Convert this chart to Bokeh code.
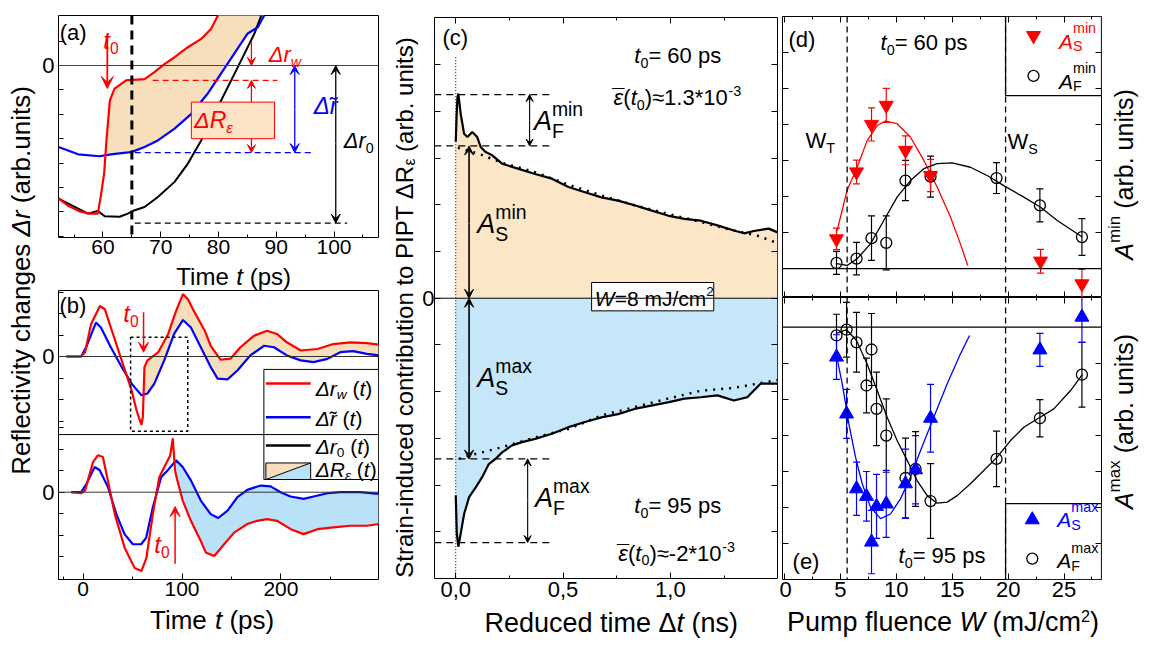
import numpy as np
from bokeh.plotting import figure
from bokeh.models import (Range1d, LinearAxis, FixedTicker, Label, Arrow, VeeHead,
                          Whisker, TeeHead, ColumnDataSource, CustomJSTickFormatter, Span)
from bokeh.layouts import row, column
from bokeh.embed import file_html
from bokeh.resources import INLINE

FONT = "Liberation Sans"
RED = "#FF0000"
BLUE = "#0000FF"
TAN_AB = "#F7DFBB"
SKY_AB = "#B9E2F8"
TAN_C = "#FCE6C8"
SKY_C = "#C6E7FA"

# ---------------- data: panel (a) (time in ps, reflectivity in arb. units) ----------------
a_red_t = [52.3, 54.0, 56.0, 57.7, 59.1, 59.6, 60.2, 60.6, 61.2, 62.0, 64.0, 65.2, 67.2, 68.9, 70.7, 72.4, 74.7, 77.0, 78.7, 79.9, 80.5]
a_red_v = [-5.45, -5.75, -5.98, -6.07, -6.07, -5.39, -4.43, -3.07, -1.43, -0.95, -0.61, -0.59, -0.56, -0.27, 0.07, 0.34, 0.75, 1.09, 1.50, 2.05, 2.60]
a_blue_t = [52.3, 55.7, 59.4, 61.4, 63.2, 64.9, 67.2, 69.5, 72.4, 75.3, 78.1, 80.4, 82.7, 85.0, 86.8, 87.9, 88.4]
a_blue_v = [-3.34, -3.64, -3.72, -3.64, -3.59, -3.55, -3.34, -3.07, -2.59, -1.98, -1.16, -0.34, 0.48, 1.30, 1.57, 2.05, 2.60]
a_black_t = [52.3, 55.7, 57.4, 59.1, 60.3, 62.9, 64.3, 65.5, 67.2, 69.5, 72.4, 74.7, 77.0, 79.3, 81.6, 83.9, 86.2, 87.3, 87.8]
a_black_v = [-5.46, -5.87, -6.07, -5.96, -6.18, -6.20, -6.07, -5.93, -5.80, -5.39, -4.77, -4.02, -3.07, -1.98, -0.89, 0.20, 1.30, 1.98, 2.60]
a_cross = (60.4, -3.68)
a_t0 = 65.0
a_levels = [-0.61, -3.57, -6.46]   # red, blue, black dashed levels

# ---------------- data: panel (b) ----------------
b1_red_t = [-17, -2, 2, 8, 17, 22, 28, 39, 49, 54, 59, 60.4, 62, 65, 76, 86, 94, 101, 106, 112, 123, 129, 139, 149, 159, 173, 186, 196, 206, 220, 237, 253, 270, 287, 299]
b1_red_v = [0, 0, 0.2, 1.5, 2.35, 2.2, 1.35, -0.18, -1.57, -2.5, -3.18, -2.8, -0.5, -0.18, 0.2, 1.05, 2.12, 2.9, 2.66, 2.12, 1.2, 0.5, -0.15, -0.1, 0.43, 0.97, 1.2, 1.05, 0.66, 0.28, 0.35, 0.58, 0.66, 0.62, 0.55]
b1_blue_t = [-17, -2, 3, 13, 18, 28, 39, 49, 59, 65, 72, 82, 92, 101, 109, 119, 129, 136, 146, 156, 169, 183, 193, 206, 220, 233, 247, 260, 273, 287, 299]
b1_blue_v = [0, 0, 0.43, 1.58, 1.35, 0.43, -0.49, -1.26, -1.8, -1.72, -1.26, -0.18, 1.05, 1.7, 1.35, 0.43, -0.49, -1.03, -1.06, -0.65, 0.05, 0.5, 0.43, 0.05, -0.18, -0.26, -0.11, 0.2, 0.25, 0.12, 0.05]
b1_cross = (61.2, -1.78)

b2_red_t = [-12, -2, 2, 10, 15, 20, 25, 32, 42, 52, 59, 64, 70.5, 77, 83, 88, 90.7, 91.6, 93.0, 95, 100.7, 109, 119, 124, 132.6, 142.6, 152.7, 166, 176, 186, 196, 210, 223, 237, 253, 270, 287, 299]
b2_red_v = [0, -0.05, 0.08, 1.4, 1.72, 1.64, 0.55, -1.02, -2.58, -3.52, -3.67, -3.05, -1.02, 0.7, 1.25, 1.7, 2.5, 1.9, 1.0, 0.6, -0.39, -1.33, -2.27, -2.8, -2.97, -2.42, -1.88, -1.48, -1.33, -1.25, -1.33, -1.72, -1.95, -1.72, -1.64, -1.56, -1.56, -1.48]
b2_blue_t = [-12, -2, 3.4, 11.7, 16.8, 25.2, 33.6, 41.9, 50.3, 58.7, 63.8, 70.5, 78.9, 85.6, 94, 100.7, 109, 119, 129, 136.6, 146, 156, 166, 179.5, 189.6, 199.7, 209.7, 223, 233, 247, 260, 280, 299]
b2_blue_v = [0, 0, 0.39, 1.17, 1.02, 0.23, -1.02, -1.95, -2.42, -2.42, -2.11, -0.7, 0.7, 1.02, 1.48, 1.17, 0.55, -0.39, -1.02, -1.2, -0.86, -0.23, 0.11, 0.31, 0.27, 0, -0.2, -0.31, -0.2, -0.05, 0, 0, -0.08]
b2_cross = (92.4, 1.4)
B2 = -6.31   # vertical placement of the lower trace pair inside panel (b)

# ---------------- data: panel (c) (reduced time in ns) ----------------
c_up_t = [0.0, 0.004, 0.008, 0.012, 0.023, 0.039, 0.054, 0.077, 0.1, 0.116, 0.139, 0.17, 0.216, 0.293, 0.37, 0.448, 0.525, 0.602, 0.679, 0.756, 0.833, 0.91, 0.988, 1.065, 1.142, 1.219, 1.296, 1.343, 1.389, 1.458, 1.499]
c_up_v = [3.35, 3.9, 4.31, 4.38, 3.95, 3.52, 3.45, 3.56, 3.45, 3.24, 3.13, 3.06, 2.88, 2.77, 2.66, 2.56, 2.38, 2.27, 2.16, 2.09, 1.99, 1.88, 1.77, 1.70, 1.66, 1.56, 1.45, 1.39, 1.44, 1.49, 1.41]
c_fitup_t = [0.01, 0.108, 0.216, 0.37, 0.525, 0.679, 0.833, 0.988, 1.142, 1.296, 1.405, 1.499]
c_fitup_v = [3.22, 3.09, 2.90, 2.70, 2.43, 2.20, 1.99, 1.81, 1.63, 1.45, 1.34, 1.18]
c_lo_t = [0.0, 0.005, 0.012, 0.023, 0.039, 0.062, 0.093, 0.123, 0.154, 0.185, 0.216, 0.262, 0.309, 0.37, 0.448, 0.525, 0.602, 0.679, 0.756, 0.833, 0.91, 0.988, 1.065, 1.142, 1.219, 1.296, 1.358, 1.42, 1.499]
c_lo_v = [-4.22, -5.04, -5.32, -5.04, -4.62, -4.26, -4.05, -3.83, -3.55, -3.44, -3.30, -3.15, -3.08, -3.01, -2.90, -2.76, -2.65, -2.55, -2.48, -2.37, -2.30, -2.23, -2.15, -2.12, -2.08, -2.19, -2.12, -1.83, -1.83]
c_fitlo_t = [0.015, 0.062, 0.216, 0.37, 0.525, 0.679, 0.833, 0.988, 1.142, 1.296, 1.499]
c_fitlo_v = [-3.44, -3.37, -3.19, -2.98, -2.80, -2.51, -2.33, -2.15, -1.98, -1.92, -1.75]
c_levels = [4.36, 3.26, -3.44, -5.23]
c_xticks = [0.0, 0.5, 1.0]

# ---------------- data: panel (d) ----------------
d_w = [4.65, 6.44, 7.78, 9.10, 10.82, 13.06, 22.90, 26.60]
d_s = [0.83, 2.69, 4.01, 4.54, 3.29, 2.59, 0.21, -0.42]
d_s_err = [0.30, 0.33, 0.46, 0.47, 0.40, 0.45, 0.33, 0.40]
d_fw = [4.65, 6.44, 7.78, 9.10, 10.82, 13.06, 18.96, 22.84, 26.60]
d_f = [0.16, 0.28, 0.85, 0.72, 2.45, 2.56, 2.52, 1.76, 0.88]
d_f_err = [0.32, 0.45, 0.62, 0.75, 0.56, 0.57, 0.43, 0.46, 0.51]
d_sfit_w = [4.70, 5.6, 6.5, 7.39, 8.29, 9.03, 10.07, 11.26, 12.46, 13.65, 14.84, 15.73, 16.39]
d_sfit = [1.05, 2.18, 2.82, 3.56, 3.98, 4.10, 4.03, 3.66, 3.01, 2.27, 1.44, 0.69, 0.09]
d_ffit_w = [4.65, 5.6, 6.5, 7.69, 8.88, 10.07, 11.26, 12.46, 13.65, 14.99, 16.63, 18.12, 19.61, 21.4, 22.9, 24.39, 26.63]
d_ffit = [0.14, 0.09, 0.28, 0.69, 1.34, 1.99, 2.45, 2.78, 2.92, 2.94, 2.82, 2.59, 2.31, 1.99, 1.71, 1.34, 0.88]

# ---------------- data: panel (e) ----------------
e_w = [4.65, 5.55, 6.44, 7.33, 7.78, 8.23, 9.10, 10.82, 11.72, 13.06, 22.84, 26.60]
e_s = [-0.83, -2.41, -4.49, -4.70, -5.97, -4.98, -4.91, -4.35, -3.96, -2.53, -0.63, 0.28]
e_s_err = [0.62, 0.68, 0.74, 0.69, 0.88, 0.89, 0.93, 0.96, 0.95, 0.94, 0.46, 0.70]
e_fw = [4.65, 5.55, 6.44, 7.33, 7.78, 8.23, 9.10, 10.82, 11.72, 13.06, 18.96, 22.84, 26.60]
e_f = [-0.23, -0.07, -0.42, -1.62, -0.62, -2.27, -3.01, -4.19, -3.94, -4.83, -3.66, -2.53, -1.32]
e_f_err = [0.59, 0.76, 0.83, 0.76, 1.00, 1.02, 1.02, 1.11, 1.04, 1.04, 0.77, 0.52, 0.90]
e_sfit_w = [4.65, 5.16, 5.76, 6.35, 6.95, 7.69, 8.59, 9.48, 10.37, 11.26, 12.16, 13.35, 14.55, 15.74, 16.55]
e_sfit = [-0.79, -1.57, -2.69, -3.61, -4.35, -5.0, -5.32, -5.19, -4.77, -4.17, -3.43, -2.5, -1.57, -0.74, -0.23]
e_ffit_w = [4.65, 5.55, 6.44, 7.39, 8.29, 9.18, 10.07, 10.97, 11.86, 12.76, 13.65, 14.55, 15.44, 16.63, 17.82, 19.01, 20.21, 21.4, 22.6, 24.09, 25.58, 26.63]
e_ffit = [-0.17, -0.07, -0.37, -1.02, -1.76, -2.5, -3.15, -3.7, -4.26, -4.68, -4.89, -4.86, -4.68, -4.35, -3.98, -3.61, -3.15, -2.78, -2.55, -2.27, -1.76, -1.32]
W_T, W_S = 5.6, 19.77

# ---------------- helpers ----------------
CW = {' ': 278, '!': 278, '(': 333, ')': 333, '*': 389, '+': 584, ',': 278, '-': 333, '.': 278,
      '/': 278, ':': 278, '=': 584, '\u2248': 584, '\u02dc': 333, '\u00af': 552, '\u0394': 668,
      '\u03b5': 446, '\u00b2': 333}
for ch in "0123456789":
    CW[ch] = 556
CW.update(dict(A=667, B=667, C=722, D=722, E=667, F=611, G=778, H=722, I=278, J=500, K=667, L=556,
               M=833, N=722, O=778, P=667, Q=778, R=722, S=667, T=611, U=722, V=667, W=944, X=667,
               Y=667, Z=611))
CW.update(dict(a=556, b=556, c=500, d=556, e=556, f=278, g=556, h=556, i=222, j=222, k=500, l=222,
               m=833, n=556, o=556, p=556, q=556, r=333, s=500, t=278, u=556, v=500, w=722, x=500,
               y=500, z=500))
BASE_CORR = 0.35   # the renderer puts the alphabetic baseline this many em too low


def tw(s, f):
    return sum(CW.get(ch, 556) for ch in s) * f / 1000.0


def rich(p, x, y, segs, fs=22, color="black", angle=0.0, align="left", sc=0.65, rise=0.42, drop=0.2):
    placed = []
    pos = 0.0
    end = 0.0
    prev = (0.0, 0.0)
    for seg in segs:
        text = seg[0]
        fl = seg[1] if len(seg) > 1 else ""
        col = seg[2] if len(seg) > 2 else color
        small = ("^" in fl) or ("_" in fl)
        f = fs * sc if small else fs
        w = tw(text, f)
        shift = rise * fs if "^" in fl else (-drop * fs if "_" in fl else 0.0)
        shift += BASE_CORR * f
        if "o" in fl:
            start = prev[0] + (prev[1] - w) / 2.0
        elif "b" in fl:
            start = prev[0]
            end = max(end, start + w)
            pos = end
        else:
            start = pos
            pos = start + w
            end = max(end, pos)
            prev = (start, w)
        lead = len(text) - len(text.lstrip(" "))
        placed.append((text.strip(" "), fl, col, f, start + tw(" " * lead, f), shift))
    off = -end / 2.0 if align == "center" else 0.0
    for text, fl, col, f, start, shift in placed:
        a = start + off
        if angle:
            xo, yo = -shift, a
        else:
            xo, yo = a, shift
        p.add_layout(Label(x=x, y=y, text=text, x_offset=xo, y_offset=yo, angle=angle,
                           text_font=FONT, text_font_size=f"{f:.1f}px",
                           text_font_style="italic" if "i" in fl else "normal",
                           text_color=col, text_align="left", text_baseline="alphabetic"))


def mkfig(w, h, xr, yr, left, right, top, bottom):
    p = figure(width=w, height=h, x_range=Range1d(*xr), y_range=Range1d(*yr),
               output_backend="svg", toolbar_location=None,
               x_axis_type=None, y_axis_type=None,
               min_border_left=left, min_border_right=right,
               min_border_top=top, min_border_bottom=bottom)
    p.outline_line_color = "black"
    p.outline_line_width = 1
    p.background_fill_color = "white"
    p.border_fill_color = "white"
    return p


def textfig(w, h):
    """A frameless strip (pixel coordinates) that carries axis titles."""
    p = figure(width=w, height=h, x_range=Range1d(0, w), y_range=Range1d(0, h),
               output_backend="svg", toolbar_location=None, x_axis_type=None, y_axis_type=None,
               min_border_left=0, min_border_right=0, min_border_top=0, min_border_bottom=0)
    p.outline_line_color = None
    p.background_fill_color = "white"
    p.border_fill_color = "white"
    return p


def add_axis(p, side, ticks, minor=(), labels=True, tick_len=6, minor_len=3, formatter=None,
             standoff=3, size=22):
    ax = LinearAxis(ticker=FixedTicker(ticks=list(ticks), minor_ticks=list(minor)))
    ax.axis_line_color = None
    ax.major_tick_in = tick_len
    ax.major_tick_out = 0
    ax.minor_tick_in = minor_len
    ax.minor_tick_out = 0
    ax.major_tick_line_color = "black"
    ax.minor_tick_line_color = "black"
    if labels:
        ax.major_label_text_font = FONT
        ax.major_label_text_font_size = f"{size}px"
        ax.major_label_text_color = "black"
        ax.major_label_standoff = standoff
    else:
        ax.major_label_text_font_size = "0px"
        ax.major_label_text_color = None
        ax.major_label_standoff = 0
    if formatter is not None:
        ax.formatter = formatter
    p.add_layout(ax, side)


def arrow(p, x0, y0, x1, y1, color="black", both=False, lw=1.3, size=9):
    end = VeeHead(size=size, fill_color=color, line_color=color, line_width=1)
    start = VeeHead(size=size, fill_color=color, line_color=color, line_width=1) if both else None
    p.add_layout(Arrow(x_start=x0, y_start=y0, x_end=x1, y_end=y1, end=end, start=start,
                       line_color=color, line_width=lw))


def hseg(p, x0, x1, y, color="black", dash="6 4", lw=1.3):
    p.line([x0, x1], [y, y], line_color=color, line_dash=dash, line_width=lw)


def fill_between(t_top, v_top, t_bot, v_bot, cross):
    tc, vc = cross
    xs = [tc] + [t for t in t_top if t > tc] + [t for t in t_bot[::-1] if t > tc]
    ys = ([vc] + [v for t, v in zip(t_top, v_top) if t > tc]
          + [v for t, v in zip(t_bot[::-1], v_bot[::-1]) if t > tc])
    return xs, ys


# ================= shared y label strip (x 0-39) =================
pl = textfig(39, 640)
rich(pl, 30, 360, [("Reflectivity changes ", ""), ("\u0394r", "i"), (" (arb.units)", "")],
     fs=26, angle=np.pi / 2, align="center")

# ================= panel (a) =================
pa = mkfig(349, 263, (52.3, 107.7), (-7.05, 2.05), 18, 10, 15, 26)
add_axis(pa, "below", [60, 70, 80, 90, 100], [55, 65, 75, 85, 95, 105], standoff=2, size=21)
add_axis(pa, "left", [0], [1, -1, -2, -3, -4, -5, -6, -7], minor_len=5, standoff=4)
ax_, ay_ = fill_between(a_red_t, a_red_v, a_blue_t, a_blue_v, a_cross)
pa.patch(ax_, ay_, fill_color=TAN_AB, line_color=None)
pa.add_layout(Span(location=0, dimension="width", line_color="#444444", line_width=1))
pa.line(a_black_t, a_black_v, line_color="black", line_width=2)
pa.line(a_blue_t, a_blue_v, line_color=BLUE, line_width=2.2)
pa.line(a_red_t, a_red_v, line_color=RED, line_width=2.2)
pa.add_layout(Span(location=a_t0, dimension="height", line_color="black", line_width=3, line_dash="9 6"))
hseg(pa, 68.6, 90.2, a_levels[0], RED)
hseg(pa, 65.5, 96.3, a_levels[1], BLUE)
hseg(pa, 65.5, 102.3, a_levels[2], "black")
arrow(pa, 60.75, 1.31, 60.75, -0.94, RED, lw=1.8, size=12)
arrow(pa, 85.7, 1.02, 85.7, 0.0, RED, size=8)
arrow(pa, 85.7, -1.5, 85.7, a_levels[0], RED, size=8)
arrow(pa, 85.7, -3.0, 85.7, a_levels[1], RED, size=8)
pa.quad(left=[75.3], right=[89.7], top=[-1.5], bottom=[-3.0], fill_color="#FCE3C6",
        line_color=RED, line_width=1)
arrow(pa, 93.2, -1.8, 93.2, 0.0, BLUE, size=9)
arrow(pa, 93.2, -1.8, 93.2, a_levels[1], BLUE, size=9)
arrow(pa, 100.3, -3.2, 100.3, 0.0, "black", size=9)
arrow(pa, 100.3, -3.2, 100.3, a_levels[2], "black", size=9)
rich(pa, 52.5, 1.05, [("(a)", "")], fs=22)
rich(pa, 60.05, 0.70, [("t", "i"), ("0", "_")], fs=24, color=RED)
rich(pa, 88.7, 0.12, [("\u0394r", "i"), ("w", "i_")], fs=22, color=RED)
rich(pa, 75.8, -2.58, [("\u0394R", "i"), ("\u03b5", "i_")], fs=23, color=RED)
rich(pa, 96.5, -1.97, [("\u0394", "i"), ("r", "i"), ("\u02dc", "o")], fs=24, color=BLUE)
rich(pa, 101.7, -3.4, [("\u0394r", "i"), ("0", "_")], fs=22)

pa_lab = textfig(349, 27)
rich(pa_lab, 191, 5.3, [("Time ", ""), ("t", "i"), (" (ps)", "")], fs=24, align="center")

# ================= panel (b) =================
pb = mkfig(349, 315, (-24.9, 298.7), (-10.37, 3.07), 18, 10, 0, 26)
add_axis(pb, "below", [0, 100, 200], [-20, 50, 150, 250], standoff=2, size=21)
b_minor = [3, 2, 1, -1, -2, -3] + [B2 + k for k in (3, 2, 1, -1, -2, -3)]
add_axis(pb, "left", [0, B2], b_minor, tick_len=6, minor_len=5, standoff=4,
         formatter=CustomJSTickFormatter(code="return '0';"))
b1x, b1y = fill_between(b1_red_t, b1_red_v, b1_blue_t, b1_blue_v, b1_cross)
pb.patch(b1x, b1y, fill_color=TAN_AB, line_color=None)
b2x, b2y = fill_between(b2_blue_t, b2_blue_v, b2_red_t, b2_red_v, b2_cross)
pb.patch(b2x, [v + B2 for v in b2y], fill_color=SKY_AB, line_color=None)
pb.add_layout(Span(location=0, dimension="width", line_color="#333333", line_width=1))
pb.add_layout(Span(location=B2, dimension="width", line_color="#333333", line_width=1))
pb.add_layout(Span(location=-3.63, dimension="width", line_color="black", line_width=1))
pb.line(b1_blue_t, b1_blue_v, line_color=BLUE, line_width=2.2)
pb.line(b1_red_t, b1_red_v, line_color=RED, line_width=2.2)
pb.line(b2_blue_t, [v + B2 for v in b2_blue_v], line_color=BLUE, line_width=2.2)
pb.line(b2_red_t, [v + B2 for v in b2_red_v], line_color=RED, line_width=2.2)
pb.line([48, 105.8, 105.8, 48, 48], [0.9, 0.9, -3.47, -3.47, 0.9], line_color="black",
        line_dash="3 3", line_width=1.5)
arrow(pb, 61.1, 2.06, 61.1, 0.2, RED, lw=1.5, size=10)
arrow(pb, 93.0, -9.64, 93.0, -6.98, RED, lw=1.5, size=10)
rich(pb, -23.9, 2.0, [("(b)", "")], fs=22)
rich(pb, 40.6, 1.63, [("t", "i"), ("0", "_")], fs=24, color=RED)
rich(pb, 71.9, -9.12, [("t", "i"), ("0", "_")], fs=24, color=RED)
# legend of panel (b)
pb.quad(left=[182.8], right=[298.7], top=[-0.6], bottom=[-5.72], fill_color="white",
        line_color="black", line_width=1)
pb.line([184.8, 230.1], [-1.26, -1.26], line_color=RED, line_width=2.5)
pb.line([184.8, 230.1], [-2.82, -2.82], line_color=BLUE, line_width=2.5)
pb.line([184.8, 230.1], [-4.14, -4.14], line_color="black", line_width=2.5)
pb.patch([184.8, 230.1, 184.8], [-4.95, -4.95, -5.72], fill_color=TAN_AB, line_color=None)
pb.patch([230.1, 230.1, 184.8], [-4.95, -5.72, -5.72], fill_color=SKY_AB, line_color=None)
pb.line([184.8, 230.1, 230.1, 184.8, 184.8], [-4.95, -4.95, -5.72, -5.72, -4.95],
        line_color="black", line_width=1)
pb.line([184.8, 230.1], [-5.72, -4.95], line_color="black", line_width=1)
rich(pb, 235.2, -1.81, [("\u0394r", "i"), ("w", "i_"), (" (", ""), ("t", "i"), (")", "")], fs=21)
rich(pb, 235.2, -3.21, [("\u0394", "i"), ("r", "i"), ("\u02dc", "o"), (" (", ""), ("t", "i"), (")", "")], fs=21)
rich(pb, 235.2, -4.51, [("\u0394r", "i"), ("0", "_"), (" (", ""), ("t", "i"), (")", "")], fs=21)
rich(pb, 235.2, -5.58, [("\u0394R", "i"), ("\u03b5", "i_"), (" (", ""), ("t", "i"), (")", "")], fs=21)

pb_lab = textfig(349, 35)
rich(pb_lab, 167.5, 11, [("Time ", ""), ("t", "i"), (" (ps)", "")], fs=26, align="center")

# ================= panel (c) =================
pc_lab = textfig(31, 640)
rich(pc_lab, 24, 333, [("Strain-induced contribution to PIPT \u0394R", ""), ("\u03b5", "_"),
                       (" (arb. units)", "")], fs=24, angle=np.pi / 2, align="center", drop=0.12)

pc = mkfig(360, 607, (-0.099, 1.499), (-6.0, 6.01), 13, 2, 17, 29)
add_axis(pc, "below", c_xticks, [0.25, 0.75, 1.25],
         formatter=CustomJSTickFormatter(code="return tick.toFixed(1).replace('.', ',');"))
add_axis(pc, "above", c_xticks, [0.25, 0.75, 1.25], labels=False)
c_minor = [k for k in range(-5, 6) if k != 0]
add_axis(pc, "left", [0], c_minor, minor_len=6, standoff=0)
add_axis(pc, "right", [0], c_minor, labels=False, minor_len=6)
pc.varea(x=c_up_t, y1=0, y2=c_up_v, fill_color=TAN_C)
pc.varea(x=c_lo_t, y1=c_lo_v, y2=0, fill_color=SKY_C)
pc.add_layout(Span(location=0, dimension="width", line_color="black", line_width=1))
pc.line([0, 0], [5.16, -6.0], line_color="black", line_dash="1 2", line_width=1)
for lev in c_levels:
    hseg(pc, -0.1, 0.45, lev, "black", dash="7 5", lw=1.3)
pc.line(c_fitup_t, c_fitup_v, line_color="black", line_dash="2 6", line_width=2.5)
pc.line(c_fitlo_t, c_fitlo_v, line_color="black", line_dash="2 6", line_width=2.5)
pc.line(c_up_t, c_up_v, line_color="black", line_width=2.2)
pc.line(c_lo_t, c_lo_v, line_color="black", line_width=2.2)
arrow(pc, 0.062, 1.6, 0.062, c_levels[1], "black", lw=1.6, size=9)
arrow(pc, 0.062, 1.6, 0.062, 0.0, "black", lw=1.6, size=9)
arrow(pc, 0.062, -1.7, 0.062, 0.0, "black", lw=1.6, size=9)
arrow(pc, 0.062, -1.7, 0.062, c_levels[2], "black", lw=1.6, size=9)
arrow(pc, 0.344, 3.81, 0.344, c_levels[0], "black", lw=1.1, size=7)
arrow(pc, 0.344, 3.81, 0.344, c_levels[1], "black", lw=1.1, size=7)
arrow(pc, 0.335, -4.33, 0.335, c_levels[2], "black", lw=1.1, size=7)
arrow(pc, 0.335, -4.33, 0.335, c_levels[3], "black", lw=1.1, size=7)
pc.quad(left=[0.633], right=[1.202], top=[0.337], bottom=[-0.27], fill_color="white",
        line_color="black", line_width=1)
rich(pc, 0.648, -0.156, [("W", "i"), ("=8 mJ/cm", ""), ("2", "^")], fs=21)
rich(pc, -0.062, 5.41, [("(c)", "")], fs=22)
rich(pc, 0.832, 5.03, [("t", "i"), ("0", "_"), ("= 60 ps", "")], fs=22)
rich(pc, 0.735, 4.13, [("\u03b5", "i"), ("\u00af", "o"), ("(", ""), ("t", "i"), ("0", "_"),
                       (")\u22481.3*10", ""), ("-3", "^")], fs=22)
rich(pc, 0.832, -4.61, [("t", "i"), ("0", "_"), ("= 95 ps", "")], fs=22)
rich(pc, 0.757, -5.62, [("\u03b5", "i"), ("\u00af", "o"), ("(", ""), ("t", "i"), ("0", "_"),
                        (")\u2248-2*10", ""), ("-3", "^")], fs=22)
AK = dict(fs=27, sc=0.72, rise=0.55, drop=0.28)
rich(pc, 0.364, 3.59, [("A", "i"), ("F", "_"), ("min", "^b")], **AK)
rich(pc, 0.100, 1.39, [("A", "i"), ("S", "_"), ("min", "^b")], **AK)
rich(pc, 0.100, -1.91, [("A", "i"), ("S", "_"), ("max", "^b")], **AK)
rich(pc, 0.369, -4.48, [("A", "i"), ("F", "_"), ("max", "^b")], **AK)

pc_xlab = textfig(360, 33)
rich(pc_xlab, 185.5, 8.5, [("Reduced time \u0394", ""), ("t", "i"), (" (ns)", "")], fs=27, align="center")

# ================= panels (d) and (e) =================
w_major = [0, 5, 10, 15, 20, 25]
w_minor = [2.5, 7.5, 12.5, 17.5, 22.5, 27.5]


def fluence_panel(p, yt, sw, s, serr, scol, smark, sfw, sfit, fw, fv, ferr, ffw, ffit):
    p.add_layout(Span(location=0, dimension="width", line_color="black", line_width=1.2))
    for wl in (W_T, W_S):
        p.add_layout(Span(location=wl, dimension="height", line_color="black", line_width=1.3,
                          line_dash="6 4"))
    add_axis(p, "left", yt, [], labels=False)
    add_axis(p, "right", yt, [], labels=False)
    p.line(sfw, sfit, line_color=scol, line_width=1.3)
    p.line(ffw, ffit, line_color="black", line_width=1.3)
    s_src = ColumnDataSource(dict(x=sw, lo=list(np.array(s) - np.array(serr)),
                                  hi=list(np.array(s) + np.array(serr))))
    f_src = ColumnDataSource(dict(x=fw, lo=list(np.array(fv) - np.array(ferr)),
                                  hi=list(np.array(fv) + np.array(ferr))))
    p.add_layout(Whisker(source=f_src, base="x", lower="lo", upper="hi", dimension="height",
                         line_color="black", line_width=1.2,
                         lower_head=TeeHead(size=7, line_color="black", line_width=1.2),
                         upper_head=TeeHead(size=7, line_color="black", line_width=1.2)))
    p.add_layout(Whisker(source=s_src, base="x", lower="lo", upper="hi", dimension="height",
                         line_color=scol, line_width=1.2,
                         lower_head=TeeHead(size=7, line_color=scol, line_width=1.2),
                         upper_head=TeeHead(size=7, line_color=scol, line_width=1.2)))
    p.scatter(fw, fv, marker="circle", size=11, fill_color=None, line_color="black", line_width=1.3)
    p.scatter(sw, s, marker=smark, size=14, fill_color=scol, line_color=scol)


pd_ = mkfig(325, 297, (-0.18, 28.35), (-0.8, 7.01), 3, 3, 16, 0)
add_axis(pd_, "above", w_major, w_minor, labels=False)
add_axis(pd_, "below", w_major, w_minor, labels=False)
fluence_panel(pd_, [1, 2, 3, 4, 5, 6], d_w, d_s, d_s_err, RED, "inverted_triangle",
              d_sfit_w, d_sfit, d_fw, d_f, d_f_err, d_ffit_w, d_ffit)
pd_.quad(left=[W_S], right=[28.35], top=[7.01], bottom=[4.81], fill_color="white",
         line_color="black", line_width=1.2)
pd_.scatter([22.27], [6.48], marker="inverted_triangle", size=14, fill_color=RED, line_color=RED)
pd_.scatter([22.27], [5.36], marker="circle", size=11, fill_color=None, line_color="black", line_width=1.3)
LK = dict(fs=21, sc=0.68, rise=0.72, drop=0.14)
rich(pd_, 24.55, 6.12, [("A", "i"), ("S", "_"), ("min", "^b")], color=RED, **LK)
rich(pd_, 24.55, 5.01, [("A", "i"), ("F", "_"), ("min", "^b")], **LK)
rich(pd_, 0.36, 6.15, [("(d)", "")], fs=22)
rich(pd_, 8.59, 6.06, [("t", "i"), ("0", "_"), ("= 60 ps", "")], fs=22)
rich(pd_, 1.88, 3.34, [("W", ""), ("T", "_")], fs=22)
rich(pd_, 19.95, 3.31, [("W", ""), ("S", "_")], fs=22)

pe = mkfig(325, 309, (-0.18, 28.35), (-7.01, 0.825), 3, 3, 0, 27)
add_axis(pe, "above", w_major, w_minor, labels=False)
add_axis(pe, "below", w_major, w_minor, standoff=2)
fluence_panel(pe, [-1, -2, -3, -4, -5, -6], e_w, e_s, e_s_err, BLUE, "triangle",
              e_sfit_w, e_sfit, e_fw, e_f, e_f_err, e_ffit_w, e_ffit)
pe.quad(left=[W_S], right=[28.35], top=[-4.9], bottom=[-7.01], fill_color="white",
        line_color="black", line_width=1.2)
pe.scatter([22.16], [-5.35], marker="triangle", size=14, fill_color=BLUE, line_color=BLUE)
pe.scatter([22.16], [-6.43], marker="circle", size=11, fill_color=None, line_color="black", line_width=1.3)
rich(pe, 24.4, -5.56, [("A", "i"), ("S", "_"), ("max", "^b")], color=BLUE, **LK)
rich(pe, 24.4, -6.68, [("A", "i"), ("F", "_"), ("max", "^b")], **LK)
rich(pe, 0.72, -6.72, [("(e)", "")], fs=22)
rich(pe, 10.2, -6.56, [("t", "i"), ("0", "_"), ("= 95 ps", "")], fs=22)

pe_lab = textfig(325, 34)
rich(pe_lab, 163.5, 9.5, [("Pump fluence ", ""), ("W", "i"), (" (mJ/cm", ""), ("2", "^"), (")", "")],
     fs=27, align="center", sc=0.6, rise=0.35)

pr_lab = textfig(38, 640)
rich(pr_lab, 28, 466, [("A", "i"), ("min", "^"), (" (arb. units)", "")], fs=25,
     angle=np.pi / 2, align="center", sc=0.68, rise=0.5)
rich(pr_lab, 28, 219, [("A", "i"), ("max", "^"), (" (arb. units)", "")], fs=25,
     angle=np.pi / 2, align="center", sc=0.68, rise=0.5)

layout = row(pl,
             column(pa, pa_lab, pb, pb_lab, spacing=0),
             pc_lab,
             column(pc, pc_xlab, spacing=0),
             column(pd_, pe, pe_lab, spacing=0),
             pr_lab,
             spacing=0)
open("out.html", "w").write(file_html(layout, INLINE, title="PIPT strain contribution"))
